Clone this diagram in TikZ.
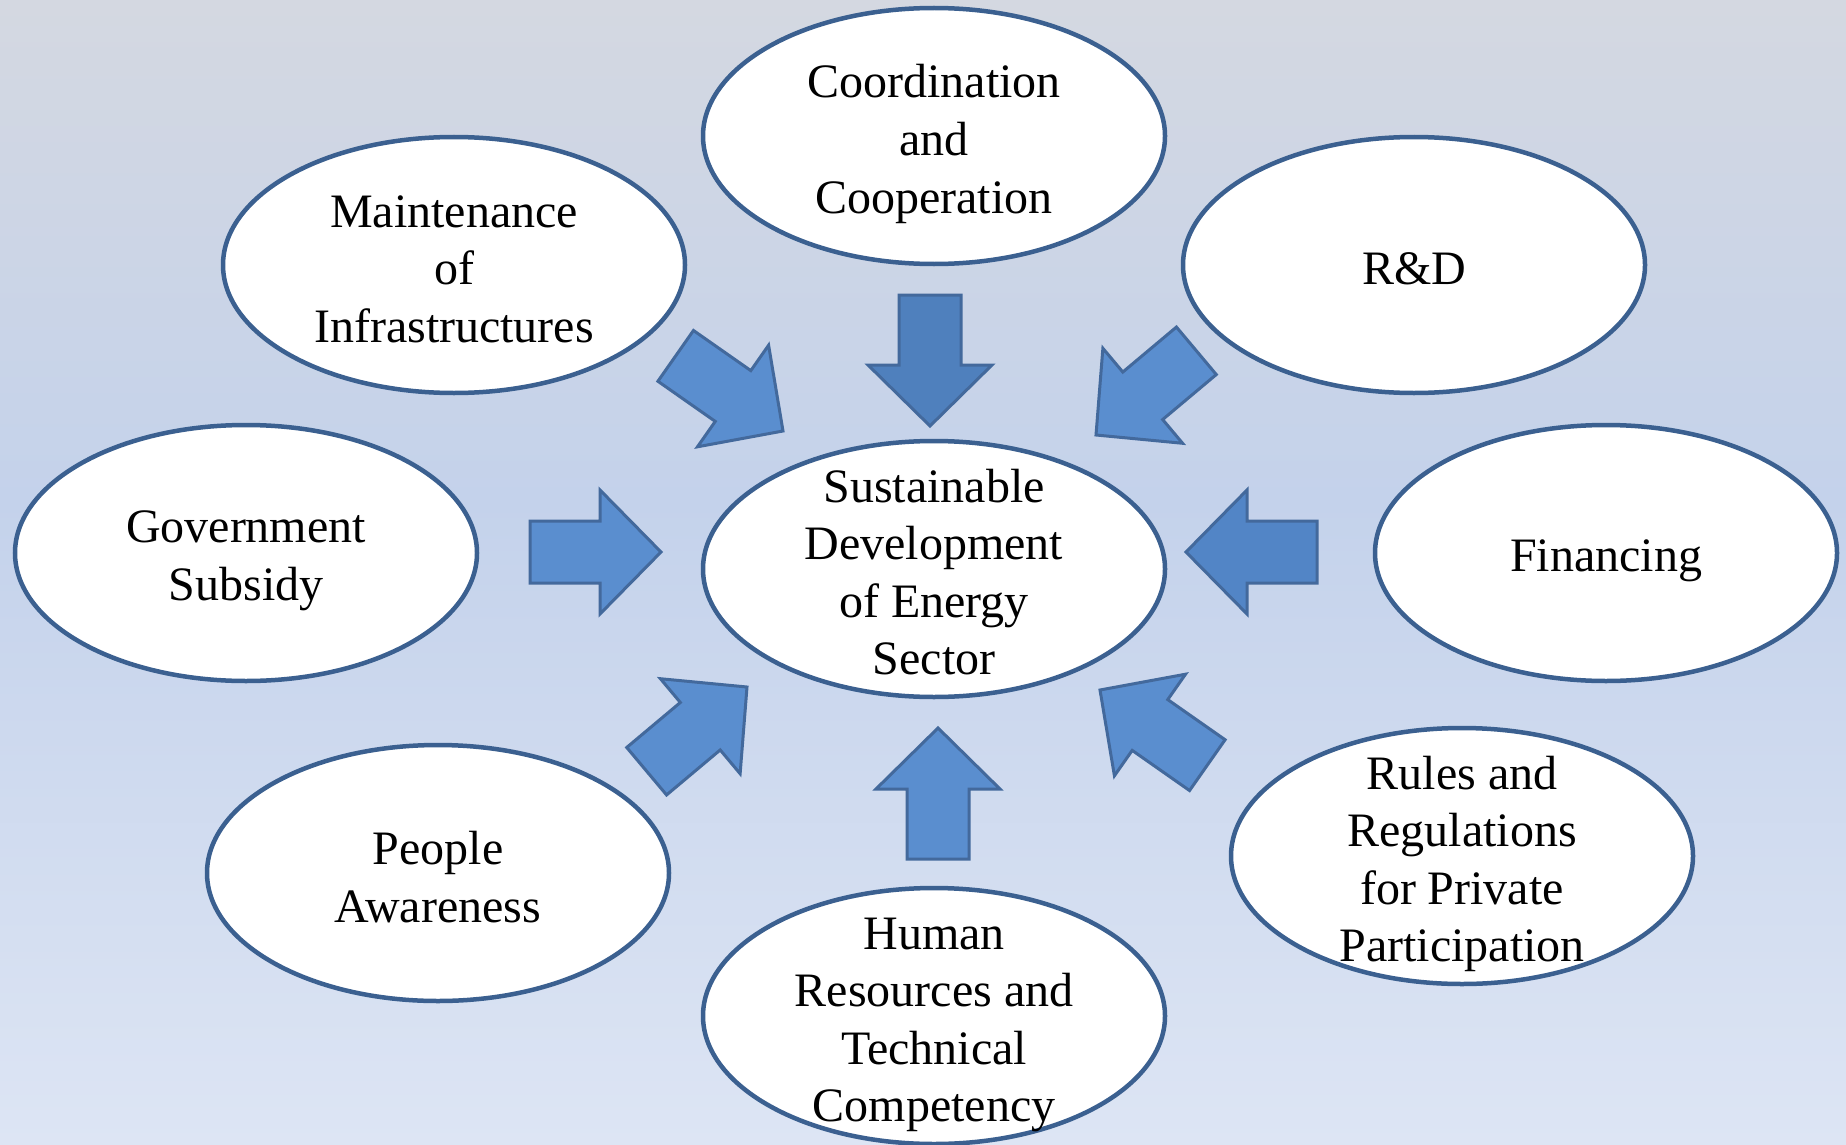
\documentclass[tikz,border=0pt]{standalone}
\usepackage{fontspec}
\setmainfont{Liberation Serif}
\usetikzlibrary{shapes.geometric}
\definecolor{bgtop}{HTML}{D4D8E1}
\definecolor{bgmid}{HTML}{C4D2EB}
\definecolor{bgbot}{HTML}{DDE5F4}
\definecolor{ellline}{HTML}{3B6090}
\definecolor{arrfill}{HTML}{5A8ECF}
\definecolor{arrdark}{HTML}{4F80BD}
\definecolor{arrmid}{HTML}{5285C6}
\definecolor{arrline}{HTML}{43699C}
\tikzset{
  bubble/.style={ellipse, draw=ellline, line width=4.5pt, fill=white,
    minimum width=462pt, minimum height=256pt, inner sep=0pt},
  bubbletext/.style={align=center, font=\fontsize{48}{57.6}\selectfont, inner sep=0pt},
  arrowbody/.style={draw=arrline, line width=3pt, line join=miter}
}
\newcommand\blockarr[3]{%
  \filldraw[arrowbody, fill=#3, shift={(#1)}, rotate=#2]
    (0,0) -- (-61,62) -- (-61,31) -- (-131,31) -- (-131,-31) -- (-61,-31) -- (-61,-62) -- cycle;}
\begin{document}
\begin{tikzpicture}[x=1pt,y=-1pt]
\useasboundingbox (0,0) rectangle (1846,1145);
\shade[top color=bgtop, bottom color=bgmid] (0,0) rectangle (1846,502);
\shade[top color=bgmid, bottom color=bgbot] (0,500) rectangle (1846,1145);

% bubbles
\node[bubble] (ctr) at (934,569) {};
\node[bubbletext] (ctrt) at ([yshift=-3pt]ctr.center) {Sustainable\\Development\\of Energy\\Sector};
\node[bubble] (coord) at (934,136) {};
\node[bubbletext] (coordt) at ([yshift=-8pt]coord.center) {Coordination\\and\\Cooperation};
\node[bubble] (maint) at (454,265) {};
\node[bubbletext] (maintt) at ([yshift=-4pt]maint.center) {Maintenance\\of\\Infrastructures};
\node[bubble] (rd) at (1414,265) {};
\node[bubbletext] (rdt) at ([yshift=-4pt]rd.center) {R\&D};
\node[bubble] (gov) at (246,553) {};
\node[bubbletext] (govt) at ([yshift=-8pt]gov.center) {Government\\Subsidy};
\node[bubble] (fin) at (1606,553) {};
\node[bubbletext] (fint) at ([yshift=-8pt]fin.center) {Financing};
\node[bubble] (ppl) at (438,873) {};
\node[bubbletext] (pplt) at ([yshift=-4pt]ppl.center) {People\\Awareness};
\node[bubble] (hum) at (934,1016) {};
\node[bubbletext] (humt) at ([yshift=-9pt]hum.center) {Human\\Resources and\\Technical\\Competency};
\node[bubble] (rules) at (1462,856) {};
\node[bubbletext] (rulest) at ([yshift=-8pt]rules.center) {Rules and\\Regulations\\for Private\\Participation};

% block arrows pointing to the centre
\blockarr{783,431}{-35}{arrfill}
\blockarr{930,426}{-90}{arrdark}
\blockarr{1096,435}{-140}{arrfill}
\blockarr{661,552}{0}{arrfill}
\blockarr{1186,552}{180}{arrmid}
\blockarr{747,687}{40}{arrfill}
\blockarr{938,728}{90}{arrfill}
\blockarr{1100,690}{145}{arrfill}
\end{tikzpicture}
\end{document}
